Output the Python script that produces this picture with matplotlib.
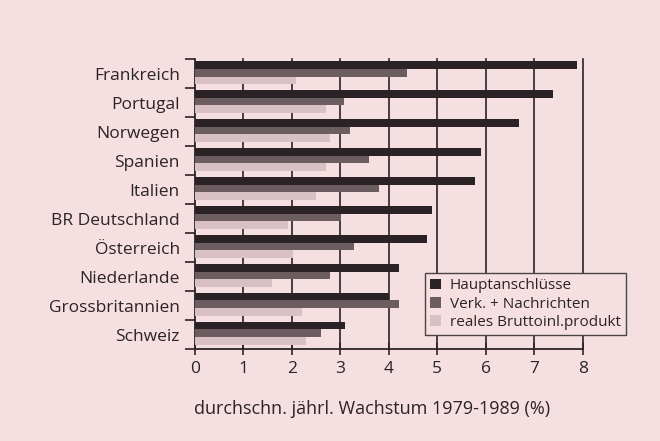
import numpy as np
import matplotlib
matplotlib.use('Agg')
import matplotlib.pyplot as plt
from matplotlib.ticker import FixedLocator, NullFormatter

countries = ['Frankreich', 'Portugal', 'Norwegen', 'Spanien', 'Italien',
             'BR Deutschland', 'Österreich', 'Niederlande', 'Grossbritannien', 'Schweiz']
hauptanschluesse = [7.88, 7.38, 6.69, 5.89, 5.78, 4.89, 4.78, 4.20, 4.00, 3.10]
verk_nachrichten = [4.38, 3.08, 3.19, 3.58, 3.79, 3.01, 3.28, 2.79, 4.20, 2.59]
bruttoinlprodukt = [2.08, 2.70, 2.78, 2.70, 2.50, 1.91, 2.02, 1.58, 2.20, 2.29]
series_labels = ['Hauptanschlüsse', 'Verk. + Nachrichten', 'reales Bruttoinl.produkt']

bg = '#f6dfe0'
text_color = '#2b2326'
colors = ['#2a2225', '#6c5d61', '#d8c0c4']

plt.rcParams['font.family'] = ['Open Sans', 'DejaVu Sans']

fig = plt.figure(figsize=(6.6, 4.41), dpi=100)
fig.patch.set_facecolor(bg)
ax = fig.add_axes([0.2955, 0.2086, 0.5875, 0.657])
ax.set_facecolor(bg)

n = len(countries)
y = np.arange(n)
h = 0.27
for k, vals in enumerate([hauptanschluesse, verk_nachrichten, bruttoinlprodukt]):
  ax.barh(y + (k - 1) * h - 0.04, vals, height=h, color=colors[k], label=series_labels[k], zorder=3)

ax.set_xlim(0, 8)
ax.set_ylim(n - 0.5, -0.5)

# vertical grid
for xv in range(1, 9):
  ax.axvline(xv, color=text_color, lw=1.2, zorder=1, clip_on=False)

ax.set_xticks(range(0, 9))
ax.tick_params(axis='x', direction='inout', length=9, width=1.2, color=text_color,
               labelsize=12.5, labelcolor=text_color, pad=4)

# boundary ticks on the y axis, labels centred in each slot
ax.yaxis.set_major_locator(FixedLocator(np.arange(n + 1) - 0.5))
ax.yaxis.set_major_formatter(NullFormatter())
ax.yaxis.set_minor_locator(FixedLocator(y))
ax.set_yticklabels(countries, minor=True)
ax.tick_params(axis='y', which='major', direction='out', length=7, width=1.2, color=text_color)
ax.tick_params(axis='y', which='minor', length=0, labelsize=12.5, labelcolor=text_color, pad=11)

for s in ['top', 'right']:
  ax.spines[s].set_visible(False)
for s in ['left', 'bottom']:
  ax.spines[s].set_color(text_color)
  ax.spines[s].set_linewidth(1.3)

ax.set_xlabel('durchschn. jährl. Wachstum 1979-1989 (%)', fontsize=13, color=text_color)
ax.xaxis.set_label_coords(0.456, -0.175)

leg = fig.legend(loc='upper left', bbox_to_anchor=(0.632, 0.398), fontsize=11,
                 frameon=True, fancybox=False, handlelength=0.7, handleheight=0.7,
                 handletextpad=0.6, labelspacing=0.2, borderpad=0.35)
leg.get_frame().set_facecolor(bg)
leg.get_frame().set_edgecolor('#4a4245')
leg.get_frame().set_linewidth(1.0)
leg.get_frame().set_alpha(1)
for t in leg.get_texts():
  t.set_color(text_color)

fig.savefig('out.png', dpi=100, facecolor=fig.get_facecolor())
